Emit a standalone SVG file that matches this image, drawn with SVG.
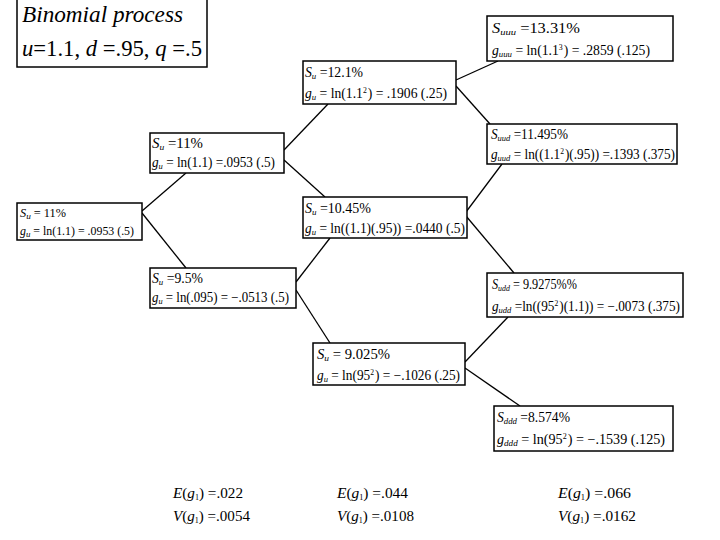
<svg xmlns="http://www.w3.org/2000/svg" width="720" height="540" viewBox="0 0 720 540">
<style>
text{font-family:"Liberation Serif","DejaVu Serif","Times New Roman",serif;fill:#000}
.box{fill:#fff;stroke:#000;stroke-width:1.5}
.t{font-size:14px}
.s{font-size:12px}
.big{font-size:23px}
.b{font-size:15px}
.i{font-style:italic}
.sub{font-size:9px;font-style:italic}
.sup{font-size:8px}
.conn line{stroke:#000;stroke-width:1.3}
</style>
<rect width="720" height="540" fill="#fff"/>
<g class="conn">
<line x1="142" y1="211" x2="186" y2="173"/>
<line x1="142" y1="213" x2="186" y2="268"/>
<line x1="284" y1="150" x2="328" y2="104"/>
<line x1="284" y1="160" x2="325" y2="197"/>
<line x1="296" y1="282" x2="330" y2="238"/>
<line x1="296" y1="290" x2="330" y2="343"/>
<line x1="456" y1="80" x2="498" y2="61"/>
<line x1="456" y1="86" x2="490" y2="124"/>
<line x1="466" y1="212" x2="502" y2="164"/>
<line x1="466" y1="216" x2="514" y2="273"/>
<line x1="465" y1="362" x2="508" y2="317"/>
<line x1="465" y1="368" x2="520" y2="406"/>
</g>
<g id="title">
<rect class="box" x="17" y="-2" width="190" height="69"/>
<text class="big i" x="22" y="22" textLength="161" lengthAdjust="spacingAndGlyphs">Binomial process</text>
<text class="big" x="22" y="56" textLength="180" lengthAdjust="spacingAndGlyphs"><tspan class="i">u</tspan>=1.1, <tspan class="i">d</tspan> =.95, <tspan class="i">q</tspan> =.5</text>
</g>
<g id="n0">
<rect class="box" x="17" y="203" width="125" height="37"/>
<text class="s" x="20" y="217" textLength="46" lengthAdjust="spacingAndGlyphs"><tspan class="i">S</tspan><tspan class="sub" dy="2">u</tspan><tspan dy="-2"> = 11%</tspan></text>
<text class="s" x="20" y="235" textLength="114" lengthAdjust="spacingAndGlyphs"><tspan class="i">g</tspan><tspan class="sub" dy="2">u</tspan><tspan dy="-2"> = ln(1.1) = .0953  (.5)</tspan></text>
</g>
<g id="nu">
<rect class="box" x="150" y="133" width="134" height="40"/>
<text class="t" x="152" y="148" textLength="51" lengthAdjust="spacingAndGlyphs"><tspan class="i">S</tspan><tspan class="sub" dy="2">u</tspan><tspan dy="-2"> =11%</tspan></text>
<text class="t" x="152" y="167" textLength="123" lengthAdjust="spacingAndGlyphs"><tspan class="i">g</tspan><tspan class="sub" dy="2">u</tspan><tspan dy="-2"> = ln(1.1) =.0953 (.5)</tspan></text>
</g>
<g id="nd">
<rect class="box" x="150" y="268" width="146" height="40"/>
<text class="t" x="152" y="283" textLength="51" lengthAdjust="spacingAndGlyphs"><tspan class="i">S</tspan><tspan class="sub" dy="2">u</tspan><tspan dy="-2"> =9.5%</tspan></text>
<text class="t" x="152" y="302" textLength="137" lengthAdjust="spacingAndGlyphs"><tspan class="i">g</tspan><tspan class="sub" dy="2">u</tspan><tspan dy="-2"> = ln(.095) = −.0513  (.5)</tspan></text>
</g>
<g id="nuu">
<rect class="box" x="303" y="61" width="153" height="43"/>
<text class="t" x="305" y="77" textLength="58" lengthAdjust="spacingAndGlyphs"><tspan class="i">S</tspan><tspan class="sub" dy="2">u</tspan><tspan dy="-2"> =12.1%</tspan></text>
<text class="t" x="305" y="98" textLength="142" lengthAdjust="spacingAndGlyphs"><tspan class="i">g</tspan><tspan class="sub" dy="2">u</tspan><tspan dy="-2"> = ln(1.1</tspan><tspan class="sup" dy="-5">2</tspan><tspan dy="5" dx="1">) = .1906 (.25)</tspan></text>
</g>
<g id="nud">
<rect class="box" x="303" y="197" width="164" height="41"/>
<text class="t" x="305" y="213" textLength="66" lengthAdjust="spacingAndGlyphs"><tspan class="i">S</tspan><tspan class="sub" dy="2">u</tspan><tspan dy="-2"> =10.45%</tspan></text>
<text class="t" x="305" y="233" textLength="160" lengthAdjust="spacingAndGlyphs"><tspan class="i">g</tspan><tspan class="sub" dy="2">u</tspan><tspan dy="-2"> = ln((1.1)(.95)) =.0440  (.5)</tspan></text>
</g>
<g id="ndd">
<rect class="box" x="313" y="343" width="152" height="42"/>
<text class="t" x="317" y="359" textLength="73" lengthAdjust="spacingAndGlyphs"><tspan class="i">S</tspan><tspan class="sub" dy="2">u</tspan><tspan dy="-2"> = 9.025%</tspan></text>
<text class="t" x="317" y="380" textLength="143" lengthAdjust="spacingAndGlyphs"><tspan class="i">g</tspan><tspan class="sub" dy="2">u</tspan><tspan dy="-2"> = ln(95</tspan><tspan class="sup" dy="-5">2</tspan><tspan dy="5" dx="1">) = −.1026  (.25)</tspan></text>
</g>
<g id="nuuu">
<rect class="box" x="487" y="16" width="186" height="45"/>
<text class="t" x="492" y="33" textLength="88" lengthAdjust="spacingAndGlyphs"><tspan class="i">S</tspan><tspan class="sub" dy="2">uuu</tspan><tspan dy="-2"> =13.31%</tspan></text>
<text class="t" x="492" y="55" textLength="158" lengthAdjust="spacingAndGlyphs"><tspan class="i">g</tspan><tspan class="sub" dy="2">uuu</tspan><tspan dy="-2"> = ln(1.1</tspan><tspan class="sup" dy="-5">3</tspan><tspan dy="5" dx="1">) = .2859 (.125)</tspan></text>
</g>
<g id="nuud">
<rect class="box" x="487" y="124" width="190" height="40"/>
<text class="t" x="491" y="139" textLength="77" lengthAdjust="spacingAndGlyphs"><tspan class="i">S</tspan><tspan class="sub" dy="2">uud</tspan><tspan dy="-2"> =11.495%</tspan></text>
<text class="t" x="491" y="159" textLength="184" lengthAdjust="spacingAndGlyphs"><tspan class="i">g</tspan><tspan class="sub" dy="2">uud</tspan><tspan dy="-2"> = ln((1.1</tspan><tspan class="sup" dy="-5">2</tspan><tspan dy="5" dx="1">)(.95)) =.1393 (.375)</tspan></text>
</g>
<g id="nudd">
<rect class="box" x="487" y="273" width="196" height="44"/>
<text class="t" x="492" y="289" textLength="85" lengthAdjust="spacingAndGlyphs"><tspan class="i">S</tspan><tspan class="sub" dy="2">udd</tspan><tspan dy="-2"> = 9.9275%%</tspan></text>
<text class="t" x="492" y="311" textLength="188" lengthAdjust="spacingAndGlyphs"><tspan class="i">g</tspan><tspan class="sub" dy="2">udd</tspan><tspan dy="-2"> =ln((95</tspan><tspan class="sup" dy="-5">2</tspan><tspan dy="5" dx="1">)(1.1)) = −.0073 (.375)</tspan></text>
</g>
<g id="nddd">
<rect class="box" x="494" y="406" width="179" height="45"/>
<text class="t" x="497" y="422" textLength="73" lengthAdjust="spacingAndGlyphs"><tspan class="i">S</tspan><tspan class="sub" dy="2">ddd</tspan><tspan dy="-2"> =8.574%</tspan></text>
<text class="t" x="497" y="444" textLength="168" lengthAdjust="spacingAndGlyphs"><tspan class="i">g</tspan><tspan class="sub" dy="2">ddd</tspan><tspan dy="-2"> = ln(95</tspan><tspan class="sup" dy="-5">2</tspan><tspan dy="5" dx="1">) = −.1539  (.125)</tspan></text>
</g>
<g id="stats">
<text class="b" x="173" y="498" textLength="70" lengthAdjust="spacingAndGlyphs"><tspan class="i">E</tspan>(<tspan class="i">g</tspan><tspan class="sup" dy="2">1</tspan><tspan dy="-2">) =.022</tspan></text>
<text class="b" x="173" y="521" textLength="77" lengthAdjust="spacingAndGlyphs"><tspan class="i">V</tspan>(<tspan class="i">g</tspan><tspan class="sup" dy="2">1</tspan><tspan dy="-2">) =.0054</tspan></text>
<text class="b" x="337" y="498" textLength="71" lengthAdjust="spacingAndGlyphs"><tspan class="i">E</tspan>(<tspan class="i">g</tspan><tspan class="sup" dy="2">1</tspan><tspan dy="-2">) =.044</tspan></text>
<text class="b" x="337" y="521" textLength="77" lengthAdjust="spacingAndGlyphs"><tspan class="i">V</tspan>(<tspan class="i">g</tspan><tspan class="sup" dy="2">1</tspan><tspan dy="-2">) =.0108</tspan></text>
<text class="b" x="558" y="498" textLength="73" lengthAdjust="spacingAndGlyphs"><tspan class="i">E</tspan>(<tspan class="i">g</tspan><tspan class="sup" dy="2">1</tspan><tspan dy="-2">) =.066</tspan></text>
<text class="b" x="558" y="521" textLength="78" lengthAdjust="spacingAndGlyphs"><tspan class="i">V</tspan>(<tspan class="i">g</tspan><tspan class="sup" dy="2">1</tspan><tspan dy="-2">) =.0162</tspan></text>
</g>
</svg>
